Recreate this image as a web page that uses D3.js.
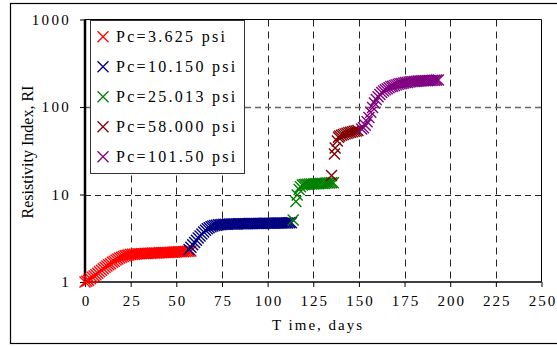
<!DOCTYPE html>
<html><head><meta charset="utf-8">
<script src="https://cdn.jsdelivr.net/npm/d3@7"></script>
<style>body{margin:0;background:#fff}svg{display:block}</style>
</head><body>
<script>
const xTicks = [0,25,50,75,100,125,150,175,200,225,250];
const yTicks = [1,10,100,1000];
const seriesNames = ["Pc=3.625 psi","Pc=10.150 psi","Pc=25.013 psi","Pc=58.000 psi","Pc=101.50 psi"];
const seriesColors = ["#ff0000","#000080","#008000","#800000","#800080"];

const red = [[0,1.00],[1,1.02],[2,1.05],[3,1.09],[4,1.13],[5,1.17],[6,1.21],[7,1.26],[8,1.31],[9,1.36],[10,1.42],[11,1.47],[12,1.52],[13,1.57],[14,1.62],[15,1.68],[16,1.73],[17,1.78],[18,1.83],[19,1.88],[20,1.92],[21,1.96],[22,1.99],[23,2.02],[24,2.04],[25,2.06],[26,2.07],[27,2.08],[28,2.09],[29,2.10],[30,2.10],[31,2.11],[32,2.11],[33,2.12],[34,2.12],[35,2.13],[36,2.13],[37,2.14],[38,2.14],[39,2.15],[40,2.15],[41,2.16],[42,2.16],[43,2.17],[44,2.17],[45,2.18],[46,2.18],[47,2.19],[48,2.19],[49,2.20],[50,2.20],[51,2.21],[52,2.21],[53,2.22],[54,2.22],[55,2.23],[56,2.24],[57,2.25],[58,2.26]];
const blue = [[57,2.35],[58,2.5],[59,2.66],[60,2.83],[61,3.0],[62,3.18],[63,3.36],[64,3.54],[65,3.72],[66,3.9],[67,4.05],[68,4.18],[69,4.28],[70,4.36],[71,4.42],[72,4.46],[73,4.5],[74,4.52],[75,4.54],[76,4.56],[77,4.57],[78,4.58],[79,4.59],[80,4.6],[81,4.6],[82,4.61],[83,4.61],[84,4.62],[85,4.62],[86,4.63],[87,4.63],[88,4.64],[89,4.64],[90,4.65],[91,4.65],[92,4.65],[93,4.66],[94,4.66],[95,4.67],[96,4.67],[97,4.67],[98,4.68],[99,4.68],[100,4.69],[101,4.69],[102,4.69],[103,4.7],[104,4.7],[105,4.71],[106,4.71],[107,4.72],[108,4.72],[109,4.72],[110,4.73],[111,4.73],[112,4.74],[113,4.74]];
const green = [[114,5.1],[115.5,8.3],[116.2,9.9],[117.3,11.4],[118,12.3],[119,12.8],[120,13.0],[121,13.1],[122,13.1],[123,13.2],[124,13.2],[125,13.2],[126,13.3],[127,13.3],[128,13.3],[129,13.4],[130,13.4],[131,13.4],[132,13.5],[133,13.5],[134,13.5],[135,13.6],[136,13.6]];
const darkred = [[135,16.5],[136.6,29],[137,34],[138.2,41],[138.8,45],[139.5,46.5],[140.5,47.5],[141.5,48.5],[142.5,49.3],[143.5,50],[144.5,50.7],[145.5,51.3],[146.5,52],[147.5,52.7],[148.5,53.3],[149.5,54]];
const purple = [[151.5,56],[152.5,58],[153.5,62],[154.5,68],[155.5,76],[156.5,87],[157.5,99],[158.5,111],[159.5,122],[160.5,131],[161.5,139],[162.5,146],[163.5,152],[164.5,157],[165.5,162],[166.5,166],[167.5,170],[168.5,173],[169.5,176],[170.5,179],[171.5,182],[172.5,184],[173.5,186],[174.5,188],[175.5,190],[176.5,191],[177.5,193],[178.5,194],[179.5,195],[180.5,196],[181.5,197],[182.5,198],[183.5,198],[184.5,199],[185.5,199],[186.5,200],[187.5,200],[188.5,201],[189.5,201],[190.5,202],[191.5,202],[192.5,203],[193.5,203]];
const allSeries = [red, blue, green, darkred, purple];

const W = 557, H = 346;
const svg = d3.select("body").append("svg").attr("width", W).attr("height", H);
const L = 85, R = 541.5, T = 19.5, B = 282;
const x = d3.scaleLinear().domain([0,250]).range([L,R]);
const y = d3.scaleLog().domain([1,1000]).range([B,T]);
const serif = "'Liberation Serif','Times New Roman',serif";

// outer frame
svg.append("rect").attr("x",10.5).attr("y",3.5).attr("width",560).attr("height",340)
  .attr("fill","none").attr("stroke","#000").attr("stroke-width",1.2);

// grid
svg.append("g").selectAll("line").data(xTicks.slice(1,-1)).join("line")
  .attr("x1",d=>Math.round(x(d))+0.5).attr("x2",d=>Math.round(x(d))+0.5).attr("y1",T).attr("y2",B)
  .attr("stroke","#222").attr("stroke-width",1).attr("stroke-dasharray","7,5");
svg.append("g").selectAll("line").data([10,100]).join("line")
  .attr("x1",L).attr("x2",R).attr("y1",d=>Math.round(y(d))+0.5).attr("y2",d=>Math.round(y(d))+0.5)
  .attr("stroke",d=>d===100?"#666":"#222").attr("stroke-width",d=>d===100?1.5:1).attr("stroke-dasharray","6,4");

// plot border
svg.append("line").attr("x1",L).attr("x2",R).attr("y1",T).attr("y2",T).attr("stroke","#000");
svg.append("line").attr("x1",R).attr("x2",R).attr("y1",T).attr("y2",B).attr("stroke","#000");

// axes
const xAxis = d3.axisBottom(x).tickValues(xTicks).tickSize(5).tickFormat(d3.format("d"));
const gx = svg.append("g").attr("transform",`translate(0,${B})`).call(xAxis);
gx.select(".domain").attr("stroke-width",1.5).attr("d",`M${L},0H${R}`);
gx.selectAll("text").attr("font-family",serif).attr("font-size",15).attr("letter-spacing","2px").attr("dy","1.05em").attr("dx","1px").attr("fill","#000");

const yAxis = d3.axisLeft(y).tickValues(yTicks).tickSize(5).tickFormat(d3.format("d"));
const gy = svg.append("g").attr("transform",`translate(${L},0)`).call(yAxis);
gy.select(".domain").attr("stroke-width",2.5).attr("d",`M0,${T}V${B}`);
gy.selectAll("text").attr("font-family",serif).attr("font-size",15).attr("letter-spacing","2.3px").attr("x",-14).attr("fill","#000");

// axis titles
svg.append("text").attr("x",318).attr("y",330).attr("text-anchor","middle")
  .attr("font-family",serif).attr("font-size",15).attr("letter-spacing","2px").text("T ime, days");
svg.append("text").attr("transform","translate(33,152) rotate(-90)").attr("text-anchor","middle")
  .attr("font-family",serif).attr("font-size",16).text("Resistivity Index, RI");

// markers
const xPath = "M-5.5,-5.5L5.5,5.5M-5.5,5.5L5.5,-5.5";
const plot = svg.append("g");
allSeries.forEach((s,i)=>{
  plot.append("g").selectAll("path").data(s).join("path")
    .attr("transform",d=>`translate(${x(d[0])},${y(d[1])})`)
    .attr("d",xPath).attr("stroke",seriesColors[i]).attr("stroke-width",1.4).attr("fill","none");
});

// legend
const lg = svg.append("g");
lg.append("rect").attr("x",90.5).attr("y",20.5).attr("width",154).attr("height",153)
  .attr("fill","#fff").attr("stroke","#333").attr("stroke-width",1);
seriesNames.forEach((n,i)=>{
  const cy = 36.7 + i*30;
  lg.append("path").attr("transform",`translate(103,${cy})`).attr("d","M-5.5,-5.5L5.5,5.5M-5.5,5.5L5.5,-5.5")
    .attr("stroke",seriesColors[i]).attr("stroke-width",1.3).attr("fill","none");
  lg.append("text").attr("x",116).attr("y",cy+5.5).attr("font-family",serif).attr("font-size",16)
    .attr("letter-spacing","2.3px").text(n);
});
</script>
</body></html>
